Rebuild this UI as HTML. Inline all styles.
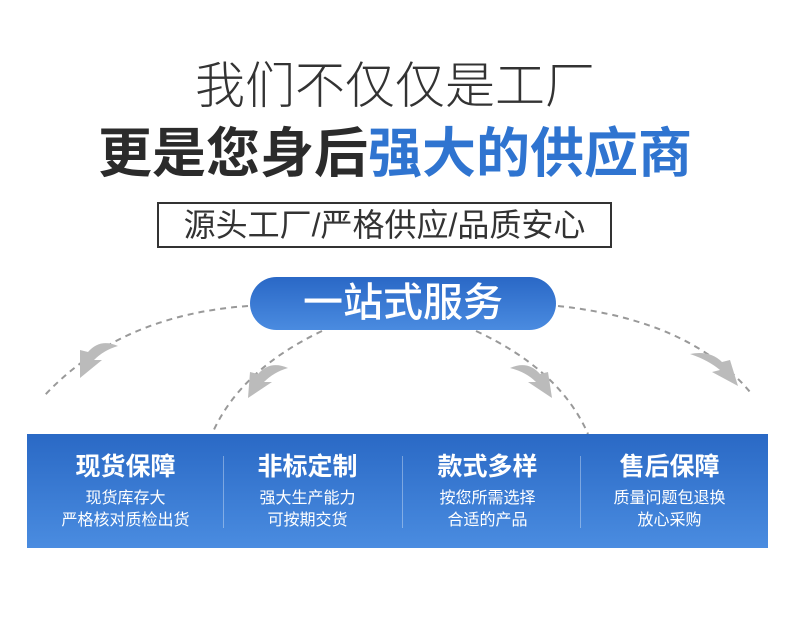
<!DOCTYPE html>
<html><head><meta charset="utf-8"><style>
body{margin:0;width:790px;height:629px;background:#fff;position:relative;overflow:hidden;font-family:"Liberation Sans","Noto Sans CJK SC",sans-serif}
.a{position:absolute;white-space:nowrap}
.l1{left:0;width:790px;text-align:center;top:56px;font-size:50px;line-height:60px;color:#333;font-weight:300}
.l2{left:0;width:790px;text-align:center;top:123px;font-size:54px;line-height:62px;color:#2b2b2b;font-weight:bold}
.l2 span{color:#2f74d0}
.box{left:157px;top:202px;width:451px;height:42px;border:2px solid #333;text-align:center;font-size:32px;line-height:42px;color:#333}
.pill{left:250px;top:277px;width:306px;height:53px;border-radius:27px;background:linear-gradient(#2a68c6,#4a8be0);color:#fff;text-align:center;font-size:40px;line-height:53px;font-weight:500}
.band{left:27px;top:434px;width:741px;height:114px;background:linear-gradient(#2a69c5,#4a8ce0)}
.col{position:absolute;top:0;width:185px;text-align:center;color:#fff}
.col h{display:block;font-size:25px;font-weight:bold;margin-top:18px;line-height:30px}
.col p{margin:6px 0 0;font-size:16px;line-height:22px}
.dv{position:absolute;top:22px;width:1px;height:72px;background:rgba(255,255,255,.35)}
</style></head><body>
<svg class="a" style="left:0;top:0" width="790" height="629">
<g fill="none" stroke="#999" stroke-width="2" stroke-dasharray="6,5">
<path d="M248 306 Q120 315 45 395"/>
<path d="M322 331 Q240 370 212 434"/>
<path d="M476 331 Q560 370 588 434"/>
<path d="M558 306 Q690 320 750 392"/>
</g>
<g fill="#bbb">
<path d="M118 346 Q100 338 88 352 L80 350 L80 378 L102 360 L94 360 Q104 350 118 346 Z"/>
<path d="M288 368 Q270 360 258 374 L250 372 L248 398 L272 382 L264 382 Q274 372 288 368 Z"/>
<path d="M510 368 Q528 360 540 374 L548 372 L552 398 L528 382 L536 382 Q526 372 510 368 Z"/>
<path d="M690 354 Q710 350 722 362 L730 360 L738 386 L712 372 L720 370 Q708 360 690 354 Z"/>
</g>
</svg>
<div class="a l1">我们不仅仅是工厂</div>
<div class="a l2">更是您身后<span>强大的供应商</span></div>
<div class="a box">源头工厂/严格供应/品质安心</div>
<div class="a pill">一站式服务</div>
<div class="a band">
<div class="col" style="left:6px"><h>现货保障</h><p>现货库存大<br>严格核对质检出货</p></div>
<div class="dv" style="left:196px"></div>
<div class="col" style="left:188px"><h>非标定制</h><p>强大生产能力<br>可按期交货</p></div>
<div class="dv" style="left:375px"></div>
<div class="col" style="left:368px"><h>款式多样</h><p>按您所需选择<br>合适的产品</p></div>
<div class="dv" style="left:553px"></div>
<div class="col" style="left:550px"><h>售后保障</h><p>质量问题包退换<br>放心采购</p></div>
</div>
</body></html>
